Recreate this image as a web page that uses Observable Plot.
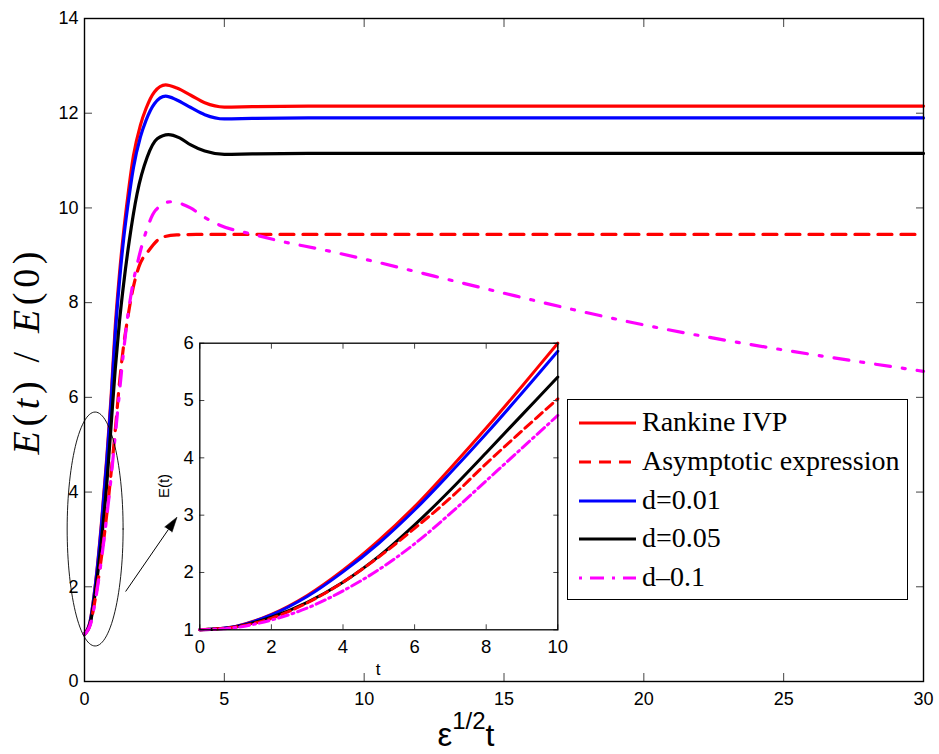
<!DOCTYPE html>
<html><head><meta charset="utf-8">
<script src="https://cdn.jsdelivr.net/npm/d3@7"></script>
<script src="https://cdn.jsdelivr.net/npm/@observablehq/plot@0.6"></script>
<style>
body{margin:0;background:#fff;}
#wrap{position:relative;width:939px;height:754px;overflow:hidden;background:#fff;}
</style></head><body><div id="wrap"></div>
<script>
// ---------- series metadata ----------
const seriesNames = ["Rankine IVP", "Asymptotic expression", "d=0.01", "d=0.05", "d\u20130.1"];
const seriesColors = ["#ff0000", "#ff0000", "#0000ff", "#000000", "#ff00ff"];

// ---------- main panel: x = eps^(1/2) t, y = E(t)/E(0) ----------
const rankineX = [0,0.2,0.4,0.6,0.8,0.95,1.1,1.25,1.4,1.55,1.75,2.0,2.2,2.5,2.9,3.3,3.8,4.3,5.0,6.0,8,30];
const rankineE = [1.0,1.27,2.1,3.3,4.75,6.0,7.5,8.6,9.5,10.25,11.1,11.75,12.1,12.45,12.6,12.53,12.38,12.22,12.13,12.14,12.15,12.15];

const asymX = [0,0.2,0.4,0.6,0.8,0.95,1.1,1.25,1.4,1.53,1.7,1.94,2.3,2.78,3.3,4,30];
const asymE = [1.0,1.2,1.8,2.6,3.55,4.4,5.3,6.3,7.1,7.62,8.2,8.75,9.1,9.38,9.43,9.44,9.44];

const d001X = [0,0.2,0.4,0.6,0.8,0.95,1.1,1.25,1.4,1.55,1.75,2.0,2.2,2.5,2.9,3.3,3.8,4.3,5.0,6.0,8,30];
const d001E = [1.0,1.26,2.08,3.25,4.68,5.9,7.35,8.45,9.35,10.05,10.85,11.5,11.85,12.2,12.36,12.28,12.12,11.97,11.88,11.89,11.9,11.9];

const d005X = [0,0.2,0.4,0.6,0.8,0.95,1.1,1.25,1.4,1.6,1.88,2.24,2.6,3.0,3.4,3.8,4.3,5.0,6,8,30];
const d005E = [1.0,1.22,1.95,2.95,4.2,5.4,6.6,7.6,8.4,9.3,10.3,11.07,11.46,11.55,11.48,11.33,11.2,11.13,11.14,11.15,11.15];

const d01X = [0,0.2,0.4,0.6,0.8,0.95,1.1,1.2,1.35,1.5,1.7,1.94,2.18,2.54,3.07,3.5,3.79,4.3,4.86,6.05,7.0,8.5,10,12.5,15,17.5,20,22.5,25,27.5,30];
const d01E = [1.0,1.18,1.75,2.55,3.5,4.3,5.2,5.8,6.7,7.5,8.3,8.95,9.46,9.95,10.13,10.08,10.0,9.8,9.63,9.44,9.3,9.12,8.92,8.56,8.2,7.85,7.53,7.25,7.0,6.77,6.55];

const mainXTicks = [0,5,10,15,20,25,30];
const mainYTicks = [0,2,4,6,8,10,12,14];

// ---------- inset panel: E(t) vs t ----------
const insetT = [0,1,2,3,4,5,6,7,8,9,10];
const insetRankine = [1.0,1.06,1.27,1.6,2.04,2.56,3.15,3.82,4.52,5.25,6.0];
const insetAsym    = [1.0,1.05,1.2,1.47,1.83,2.27,2.77,3.3,3.9,4.47,5.03];
const insetD001    = [1.0,1.06,1.26,1.58,2.01,2.51,3.09,3.74,4.42,5.13,5.86];
const insetD005    = [1.0,1.05,1.22,1.48,1.83,2.28,2.83,3.44,4.09,4.75,5.41];
const insetD01     = [1.0,1.04,1.17,1.38,1.68,2.05,2.5,3.03,3.6,4.17,4.74];

const insetXTicks = [0,2,4,6,8,10];
const insetYTicks = [1,2,3,4,5,6];

// ---------- annotation (data coordinates of main panel) ----------
const ellipseSpec = {cx: 0.38, cy: 3.22, rx: 1.0, ry: 2.47};
const arrowSpec = {x1: 1.47, y1: 1.9, x2: 3.0, y2: 3.21};

// ---------- styles ----------
const mainDash  = [null, "14,9", null, null, "15,12,3,12"];
const insetDash = [null, "9,5", null, null, "10,4,2,4"];
const drawOrder = [0, 2, 3, 1, 4];

function rows(xs, ys) { return xs.map((x, i) => ({x, y: ys[i]})); }
const mainSets  = [rows(rankineX, rankineE), rows(asymX, asymE), rows(d001X, d001E), rows(d005X, d005E), rows(d01X, d01E)];
const insetSets = [insetRankine, insetAsym, insetD001, insetD005, insetD01].map(v => rows(insetT, v));

const ellipsePts = d3.range(0, 361, 3).map(a => ({
  x: ellipseSpec.cx + ellipseSpec.rx * Math.cos(a * Math.PI / 180),
  y: ellipseSpec.cy + ellipseSpec.ry * Math.sin(a * Math.PI / 180)
}));

let headMark;
try {
  headMark = Plot.vector([arrowSpec], {x: "x2", y: "y2", length: 15, rotate: 35, shape: "spike", anchor: "start", r: 4.5, fill: "black", stroke: "black", strokeWidth: 0.5});
} catch (e) {
  headMark = Plot.dot([arrowSpec], {x: "x2", y: "y2", symbol: "triangle", rotate: 35, r: 5, fill: "black"});
}

const sans = "'Liberation Sans', Arial, Helvetica, sans-serif";
const serif = "'Liberation Serif', 'Times New Roman', serif";
const tickCol = "#444";
const fmt = d => `${d}`;

const main = Plot.plot({
  width: 939, height: 754,
  marginLeft: 84, marginRight: 16, marginTop: 18, marginBottom: 73,
  x: {domain: [0, 30], label: null},
  y: {domain: [0, 14], label: null},
  style: {fontFamily: sans, fontSize: "18px", color: "black", background: "transparent", overflow: "visible"},
  marks: [
    ...drawOrder.map(i => Plot.line(mainSets[i], {x: "x", y: "y", stroke: seriesColors[i], strokeWidth: 3.2, strokeDasharray: mainDash[i], curve: "monotone-x"})),
    Plot.line(ellipsePts, {x: "x", y: "y", stroke: "black", strokeWidth: 0.9, curve: "linear-closed"}),
    Plot.link([arrowSpec], {x1: "x1", y1: "y1", x2: "x2", y2: "y2", stroke: "black", strokeWidth: 1}),
    headMark,
    Plot.axisX({ticks: mainXTicks, tickFormat: fmt, anchor: "bottom", tickSize: 0, tickPadding: 11, label: null, fontSize: 18, fill: "black"}),
    Plot.axisY({ticks: mainYTicks, tickFormat: fmt, anchor: "left", tickSize: 0, tickPadding: 6, label: null, fontSize: 18, fill: "black"}),
    Plot.axisX({ticks: mainXTicks, anchor: "bottom", tickSize: 8, dy: -8, fill: "none", stroke: tickCol, label: null}),
    Plot.axisX({ticks: mainXTicks, anchor: "top", tickSize: 8, dy: 8, fill: "none", stroke: tickCol, label: null}),
    Plot.axisY({ticks: mainYTicks, anchor: "left", tickSize: 8, dx: 8, fill: "none", stroke: tickCol, label: null}),
    Plot.axisY({ticks: mainYTicks, anchor: "right", tickSize: 8, dx: -8, fill: "none", stroke: tickCol, label: null}),
    Plot.frame({stroke: "black", strokeWidth: 1.4})
  ]
});
main.style.position = "absolute"; main.style.left = "0px"; main.style.top = "0px";

// axis titles
const sm = d3.select(main);
const xl = sm.append("text").attr("x", 466).attr("y", 746)
  .attr("font-family", sans).attr("font-size", 33).attr("fill", "black");
xl.append("tspan").text("\u03b5");
xl.append("tspan").attr("font-size", 24).attr("dy", -17).text("1/2");
xl.append("tspan").attr("font-size", 32).attr("dy", 17).text("t");

const yl = sm.append("text").attr("transform", "translate(38.5,353) rotate(-90)")
  .attr("text-anchor", "middle").attr("font-family", serif).attr("font-size", 38)
  .attr("fill", "black").attr("textLength", 203).attr("lengthAdjust", "spacing");
yl.append("tspan").attr("font-style", "italic").text("E");
yl.append("tspan").text("(");
yl.append("tspan").attr("font-style", "italic").text("t");
yl.append("tspan").text(") / ");
yl.append("tspan").attr("font-style", "italic").text("E");
yl.append("tspan").text("(0)");

// ---------- inset ----------
const inset = Plot.plot({
  width: 420, height: 350,
  marginLeft: 49.3, marginRight: 12.7, marginTop: 12.7, marginBottom: 50.7,
  x: {domain: [0, 10], label: null},
  y: {domain: [1, 6], label: null},
  style: {fontFamily: sans, fontSize: "18.5px", color: "black", background: "transparent", overflow: "visible"},
  marks: [
    Plot.frame({fill: "white", stroke: "none"}),
    ...drawOrder.map(i => Plot.line(insetSets[i], {x: "x", y: "y", stroke: seriesColors[i], strokeWidth: 3, strokeDasharray: insetDash[i], curve: "catmull-rom"})),
    Plot.axisX({ticks: insetXTicks, tickFormat: fmt, anchor: "bottom", tickSize: 0, tickPadding: 10, label: null, fontSize: 18.5, fill: "black"}),
    Plot.axisY({ticks: insetYTicks, tickFormat: fmt, anchor: "left", tickSize: 0, tickPadding: 6, label: null, fontSize: 18.5, fill: "black"}),
    Plot.axisX({ticks: insetXTicks, anchor: "bottom", tickSize: 5, dy: -5, fill: "none", stroke: tickCol, label: null}),
    Plot.axisX({ticks: insetXTicks, anchor: "top", tickSize: 5, dy: 5, fill: "none", stroke: tickCol, label: null}),
    Plot.axisY({ticks: insetYTicks, anchor: "left", tickSize: 5, dx: 5, fill: "none", stroke: tickCol, label: null}),
    Plot.axisY({ticks: insetYTicks, anchor: "right", tickSize: 5, dx: -5, fill: "none", stroke: tickCol, label: null}),
    Plot.frame({stroke: "black", strokeWidth: 1.3})
  ]
});
inset.style.position = "absolute"; inset.style.left = "150px"; inset.style.top = "330px";
const si = d3.select(inset);
si.append("text").attr("x", 228).attr("y", 345).attr("text-anchor", "middle")
  .attr("font-family", sans).attr("font-size", 17).attr("fill", "black").text("t");
si.append("text").attr("transform", "translate(19,156) rotate(-90)").attr("text-anchor", "middle")
  .attr("font-family", sans).attr("font-size", 15).attr("fill", "black").text("E(t)");

// ---------- legend ----------
const wrap = document.getElementById("wrap");
wrap.appendChild(main);
wrap.appendChild(inset);

const legend = document.createElement("div");
Object.assign(legend.style, {position: "absolute", left: "567px", top: "399px", width: "341px", height: "201px",
  boxSizing: "border-box", border: "1.3px solid black", background: "white"});
seriesNames.forEach((name, i) => {
  const row = document.createElement("div");
  const cy = 23.3 + 38.6 * i;
  Object.assign(row.style, {position: "absolute", left: "0px", top: (cy - 19) + "px", height: "38px", width: "100%"});
  const s = d3.create("svg").attr("width", 58).attr("height", 38)
    .style("position", "absolute").style("left", "11px").style("top", "0px");
  s.append("line").attr("x1", 0).attr("x2", 57).attr("y1", 19).attr("y2", 19)
    .attr("stroke", seriesColors[i]).attr("stroke-width", 3.2)
    .attr("stroke-dasharray", mainDash[i] ? (i === 4 ? "3,8,14,8" : "12,8") : null);
  row.appendChild(s.node());
  const t = document.createElement("div");
  t.textContent = name;
  Object.assign(t.style, {position: "absolute", left: "74px", top: "3px", fontFamily: serif, fontSize: "28px",
    lineHeight: "30px", color: "black", whiteSpace: "nowrap"});
  row.appendChild(t);
  legend.appendChild(row);
});
wrap.appendChild(legend);
</script>
</body></html>
